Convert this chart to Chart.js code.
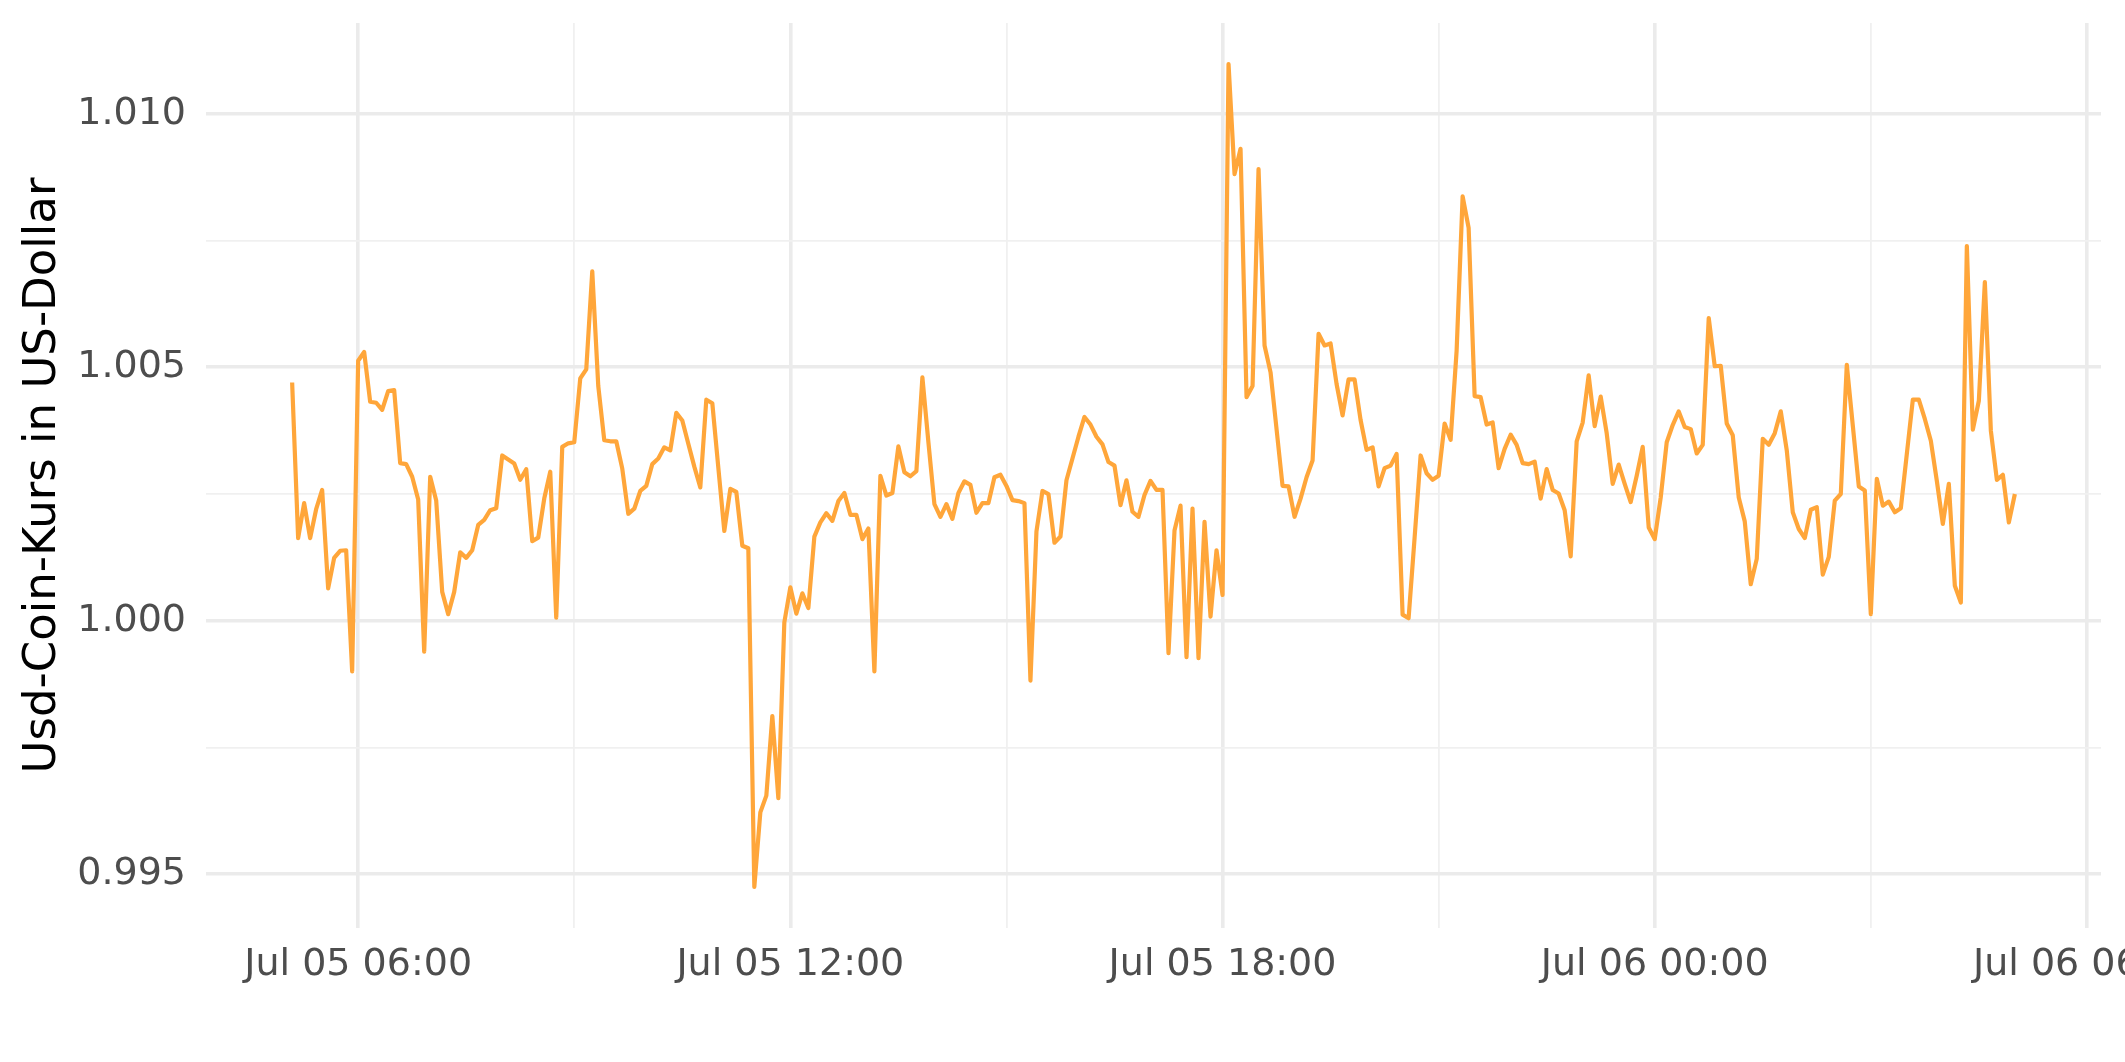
<!DOCTYPE html>
<html>
<head>
<meta charset="utf-8">
<script src="https://cdn.jsdelivr.net/npm/chart.js@4"></script>
<style>
  html, body { margin: 0; padding: 0; background: #ffffff; }
  #wrap { width: 2125px; height: 1062px; }
</style>
</head>
<body>
<div id="wrap"><canvas id="kursChart" width="2125" height="1062"></canvas></div>
<script>
// Zeitachse: Stunden ab Jul 05 00:00, ein Wert alle 5 Minuten
const startHour = 5 + 5 / 60;   // Jul 05 05:05
const stepMinutes = 5;

// Usd-Coin-Kurs in US-Dollar
const kursWerte = [
  1.00470, 1.00163, 1.00232, 1.00163, 1.00220, 1.00258, 1.00064, 1.00124, 1.00138, 1.00139,
  0.99900, 1.00513, 1.00530, 1.00432, 1.00430, 1.00416, 1.00453, 1.00455, 1.00311, 1.00309,
  1.00284, 1.00239, 0.99939, 1.00284, 1.00237, 1.00057, 1.00013, 1.00057, 1.00135, 1.00124,
  1.00139, 1.00189, 1.00199, 1.00218, 1.00222, 1.00326, 1.00318, 1.00310, 1.00278, 1.00299,
  1.00157, 1.00164, 1.00241, 1.00294, 1.00006, 1.00343, 1.00350, 1.00352, 1.00478, 1.00496,
  1.00689, 1.00463, 1.00356, 1.00354, 1.00354, 1.00300, 1.00211, 1.00221, 1.00256, 1.00266,
  1.00309, 1.00320, 1.00342, 1.00336, 1.00410, 1.00395, 1.00349, 1.00304, 1.00263, 1.00436,
  1.00429, 1.00302, 1.00177, 1.00260, 1.00254, 1.00148, 1.00143, 0.99475, 0.99622, 0.99655,
  0.99812, 0.99650, 0.99997, 1.00066, 1.00014, 1.00054, 1.00025, 1.00166, 1.00194, 1.00212,
  1.00197, 1.00236, 1.00252, 1.00209, 1.00209, 1.00161, 1.00182, 0.99900, 1.00286, 1.00247,
  1.00252, 1.00344, 1.00293, 1.00285, 1.00295, 1.00480, 1.00352, 1.00230, 1.00205, 1.00230,
  1.00201, 1.00252, 1.00275, 1.00268, 1.00213, 1.00232, 1.00232, 1.00283, 1.00288, 1.00266,
  1.00238, 1.00236, 1.00232, 0.99882, 1.00176, 1.00256, 1.00250, 1.00154, 1.00166, 1.00277,
  1.00320, 1.00363, 1.00402, 1.00387, 1.00363, 1.00348, 1.00313, 1.00306, 1.00228, 1.00277,
  1.00215, 1.00205, 1.00248, 1.00276, 1.00258, 1.00258, 0.99936, 1.00178, 1.00227, 0.99928,
  1.00221, 0.99926, 1.00195, 1.00008, 1.00139, 1.00051, 1.01098, 1.00881, 1.00931, 1.00441,
  1.00463, 1.00891, 1.00543, 1.00490, 1.00378, 1.00266, 1.00265, 1.00205, 1.00241, 1.00283,
  1.00316, 1.00566, 1.00543, 1.00547, 1.00467, 1.00405, 1.00476, 1.00476, 1.00396, 1.00337,
  1.00342, 1.00265, 1.00301, 1.00306, 1.00329, 1.00012, 1.00005, 1.00164, 1.00326, 1.00291,
  1.00278, 1.00286, 1.00389, 1.00357, 1.00533, 1.00837, 1.00775, 1.00443, 1.00441, 1.00387,
  1.00391, 1.00301, 1.00339, 1.00367, 1.00347, 1.00311, 1.00309, 1.00314, 1.00241, 1.00299,
  1.00258, 1.00251, 1.00218, 1.00127, 1.00354, 1.00391, 1.00484, 1.00384, 1.00442, 1.00370,
  1.00270, 1.00308, 1.00270, 1.00234, 1.00286, 1.00343, 1.00184, 1.00161, 1.00243, 1.00352,
  1.00386, 1.00413, 1.00382, 1.00378, 1.00330, 1.00347, 1.00597, 1.00502, 1.00503, 1.00389,
  1.00366, 1.00243, 1.00196, 1.00072, 1.00122, 1.00359, 1.00347, 1.00370, 1.00413, 1.00336,
  1.00214, 1.00181, 1.00163, 1.00219, 1.00224, 1.00091, 1.00126, 1.00237, 1.00250, 1.00505,
  1.00385, 1.00265, 1.00257, 1.00013, 1.00280, 1.00227, 1.00235, 1.00214, 1.00222, 1.00329,
  1.00436, 1.00436, 1.00398, 1.00355, 1.00276, 1.00191, 1.00270, 1.00069, 1.00036, 1.00739,
  1.00377, 1.00434, 1.00668, 1.00375, 1.00278, 1.00288, 1.00194, 1.00250
];

// Achsenbeschriftung
const xTickStunden = [6, 9, 12, 15, 18, 21, 24, 27, 30];
const xTickTexte   = ['Jul 05 06:00', '', 'Jul 05 12:00', '', 'Jul 05 18:00', '', 'Jul 06 00:00', '', 'Jul 06 06:00'];
const yTickWerte   = [0.995, 0.9975, 1.000, 1.0025, 1.005, 1.0075, 1.010];
const yTickTexte   = ['0.995', '', '1.000', '', '1.005', '', '1.010'];

const punkte = kursWerte.map((v, i) => ({ x: startHour + i * stepMinutes / 60, y: v }));

// Bereich wie ggplot (5 % Rand)
const xSpanne = punkte[punkte.length - 1].x - punkte[0].x;
const yMin = Math.min(...kursWerte), yMax = Math.max(...kursWerte);
const ySpanne = yMax - yMin;

const tickFont = { family: 'DejaVu Sans', size: 38 };

const ctx = document.getElementById('kursChart').getContext('2d');
new Chart(ctx, {
    type: 'line',
    data: {
        datasets: [{
            data: punkte,
            borderColor: '#FFA63A',
            borderWidth: 4.2,
            borderJoinStyle: 'round',
            borderCapStyle: 'butt',
            pointRadius: 0,
            tension: 0,
            fill: false
        }]
    },
    options: {
        responsive: false,
        animation: false,
        events: [],
        layout: { autoPadding: false, padding: { top: 23, right: 24, left: 0, bottom: 0 } },
        plugins: { legend: { display: false }, tooltip: { enabled: false } },
        scales: {
            x: {
                type: 'linear',
                min: punkte[0].x - 0.05 * xSpanne,
                max: punkte[punkte.length - 1].x + 0.05 * xSpanne,
                afterBuildTicks: s => { s.ticks = xTickStunden.map(v => ({ value: v })); },
                afterFit: s => {
                    s.height = 1062 - 928;
                    s.paddingLeft = 0; s.paddingRight = 0;
                },
                border: { display: false },
                grid: {
                    drawTicks: false,
                    color: c => (c.tick && xTickTexte[xTickStunden.indexOf(c.tick.value)] ? '#EBEBEB' : '#F0F0F0'),
                    lineWidth: c => (c.tick && xTickTexte[xTickStunden.indexOf(c.tick.value)] ? 3.6 : 1.8)
                },
                ticks: {
                    autoSkip: false,
                    maxRotation: 0,
                    minRotation: 0,
                    padding: 14,
                    color: '#4D4D4D',
                    font: tickFont,
                    callback: v => xTickTexte[xTickStunden.indexOf(v)] || ''
                }
            },
            y: {
                type: 'linear',
                min: yMin - 0.05 * ySpanne,
                max: yMax + 0.05 * ySpanne,
                afterBuildTicks: s => { s.ticks = yTickWerte.map(v => ({ value: v })); },
                afterFit: s => {
                    s.width = 206;
                    s.paddingTop = 0; s.paddingBottom = 0;
                },
                border: { display: false },
                grid: {
                    drawTicks: false,
                    color: c => (c.tick && yTickTexte[yTickWerte.indexOf(c.tick.value)] ? '#EBEBEB' : '#F0F0F0'),
                    lineWidth: c => (c.tick && yTickTexte[yTickWerte.indexOf(c.tick.value)] ? 3.6 : 1.8)
                },
                ticks: {
                    padding: 20,
                    color: '#4D4D4D',
                    font: tickFont,
                    callback: v => yTickTexte[yTickWerte.indexOf(v)] || ''
                },
                title: {
                    display: true,
                    text: 'Usd-Coin-Kurs in US-Dollar',
                    color: '#000000',
                    font: { family: 'DejaVu Sans', size: 45 },
                    padding: { top: 16, bottom: 0 }
                }
            }
        }
    }
});
</script>
</body>
</html>
